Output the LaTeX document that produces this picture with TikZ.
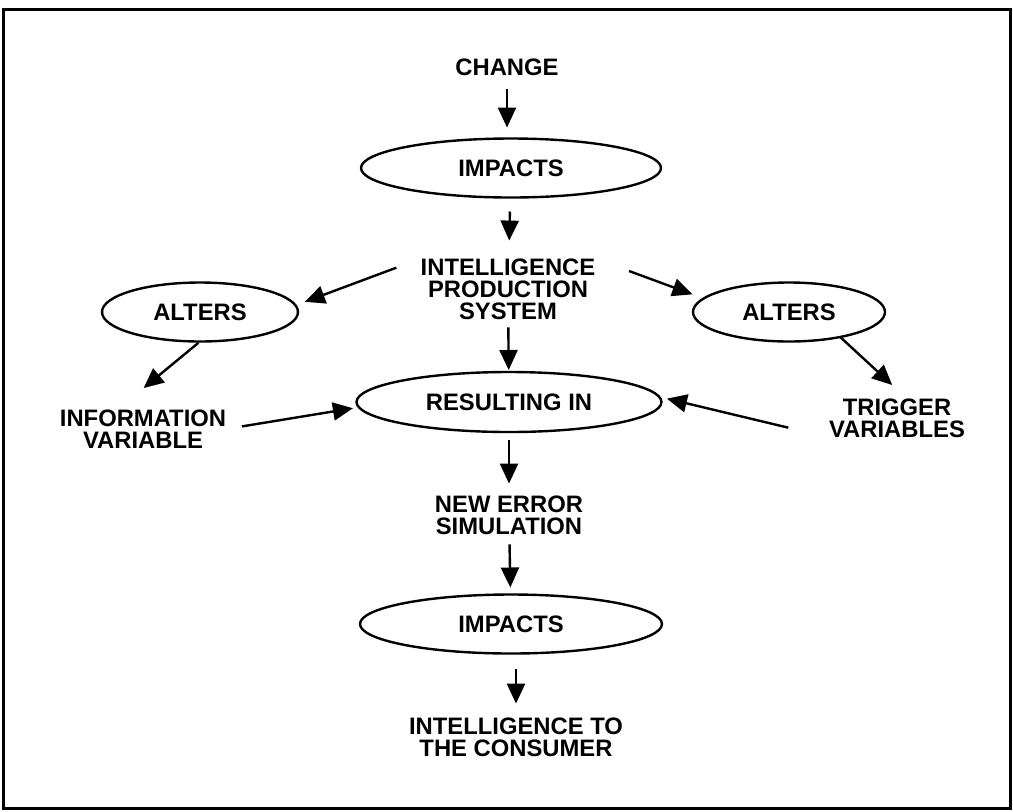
\documentclass[tikz,border=0pt]{standalone}
\usepackage{fontspec}
\setmainfont{Liberation Sans}
\usetikzlibrary{shapes,arrows.meta}
\usetikzlibrary{positioning}
\tikzset{auto, >={Triangle[length=10pt,width=9pt]}, font=\fontsize{11.9}{11}\selectfont\bfseries}
\tikzstyle{oval} = [draw, ellipse, inner sep=0pt, outer sep=0pt, minimum height=29.5pt]
\tikzstyle{term} = [align=center, inner sep=0pt, outer sep=0pt]
\tikzstyle{frame} = [line width=1.5pt]

\begin{document}
\begin{tikzpicture}[x=0.5pt, y=-0.5pt, line width=1.2pt]
	\useasboundingbox (0,0) rectangle (1013,811);
	\draw [frame] (3,9) rectangle (1010,808);

	\node [term] (change) at (507,67) {CHANGE};
	\node [oval, minimum width=150pt] (impacts_a) at (511,168) {IMPACTS};
	\node [term] (ips) at (508,289) {INTELLIGENCE\\PRODUCTION\\SYSTEM};
	\node [oval, minimum width=98pt] (alters_l) at (200,312) {ALTERS};
	\node [oval, minimum width=96pt] (alters_r) at (789,312) {ALTERS};
	\node [term] (info_var) at (143,429) {INFORMATION\\VARIABLE};
	\node [term] (trig_var) at (897,418) {TRIGGER\\VARIABLES};
	\node [oval, minimum width=152.5pt, minimum height=30pt] (resulting) at (509,402) {RESULTING IN};
	\node [term] (new_err) at (509,515) {NEW ERROR\\SIMULATION};
	\node [oval, minimum width=151pt] (impacts_b) at (511,624) {IMPACTS};
	\node [term] (consumer) at (516,737) {INTELLIGENCE TO\\THE CONSUMER};

	\draw [->, shorten <=7pt, shorten >=5.5pt] (change) -- (change |- impacts_a.north);
	\draw [->, shorten <=7pt, shorten >=9pt] (impacts_a) -- (ips);
	\draw [->, shorten <=13pt, shorten >=5pt] (ips.north west) -- (alters_l.4);
	\draw [->, shorten <=18pt, shorten >=6pt] (ips.north east) -- (alters_r.171);
	\draw [->, shorten <=1pt, shorten >=17pt] (alters_l.south) -- (info_var.143);
	\draw [->, shorten >=10pt] (alters_r.-26) -- (trig_var.63);
	\draw [->, shorten <=4pt, shorten >=1pt] (ips) -- (resulting);
	\draw [->, shorten <=8pt, shorten >=3pt] (info_var.east) -- (resulting.182);
	\draw [->, shorten <=21pt, shorten >=4pt] (trig_var.south west) -- (resulting.2);
	\draw [->, shorten <=4pt, shorten >=6pt] (resulting) -- (new_err);
	\draw [->, shorten <=5pt, shorten >=3.5pt] (new_err) -- (impacts_b);
	\draw [->, shorten <=7.5pt, shorten >=7pt] (consumer |- impacts_b.south) -- (consumer);
\end{tikzpicture}
\end{document}
